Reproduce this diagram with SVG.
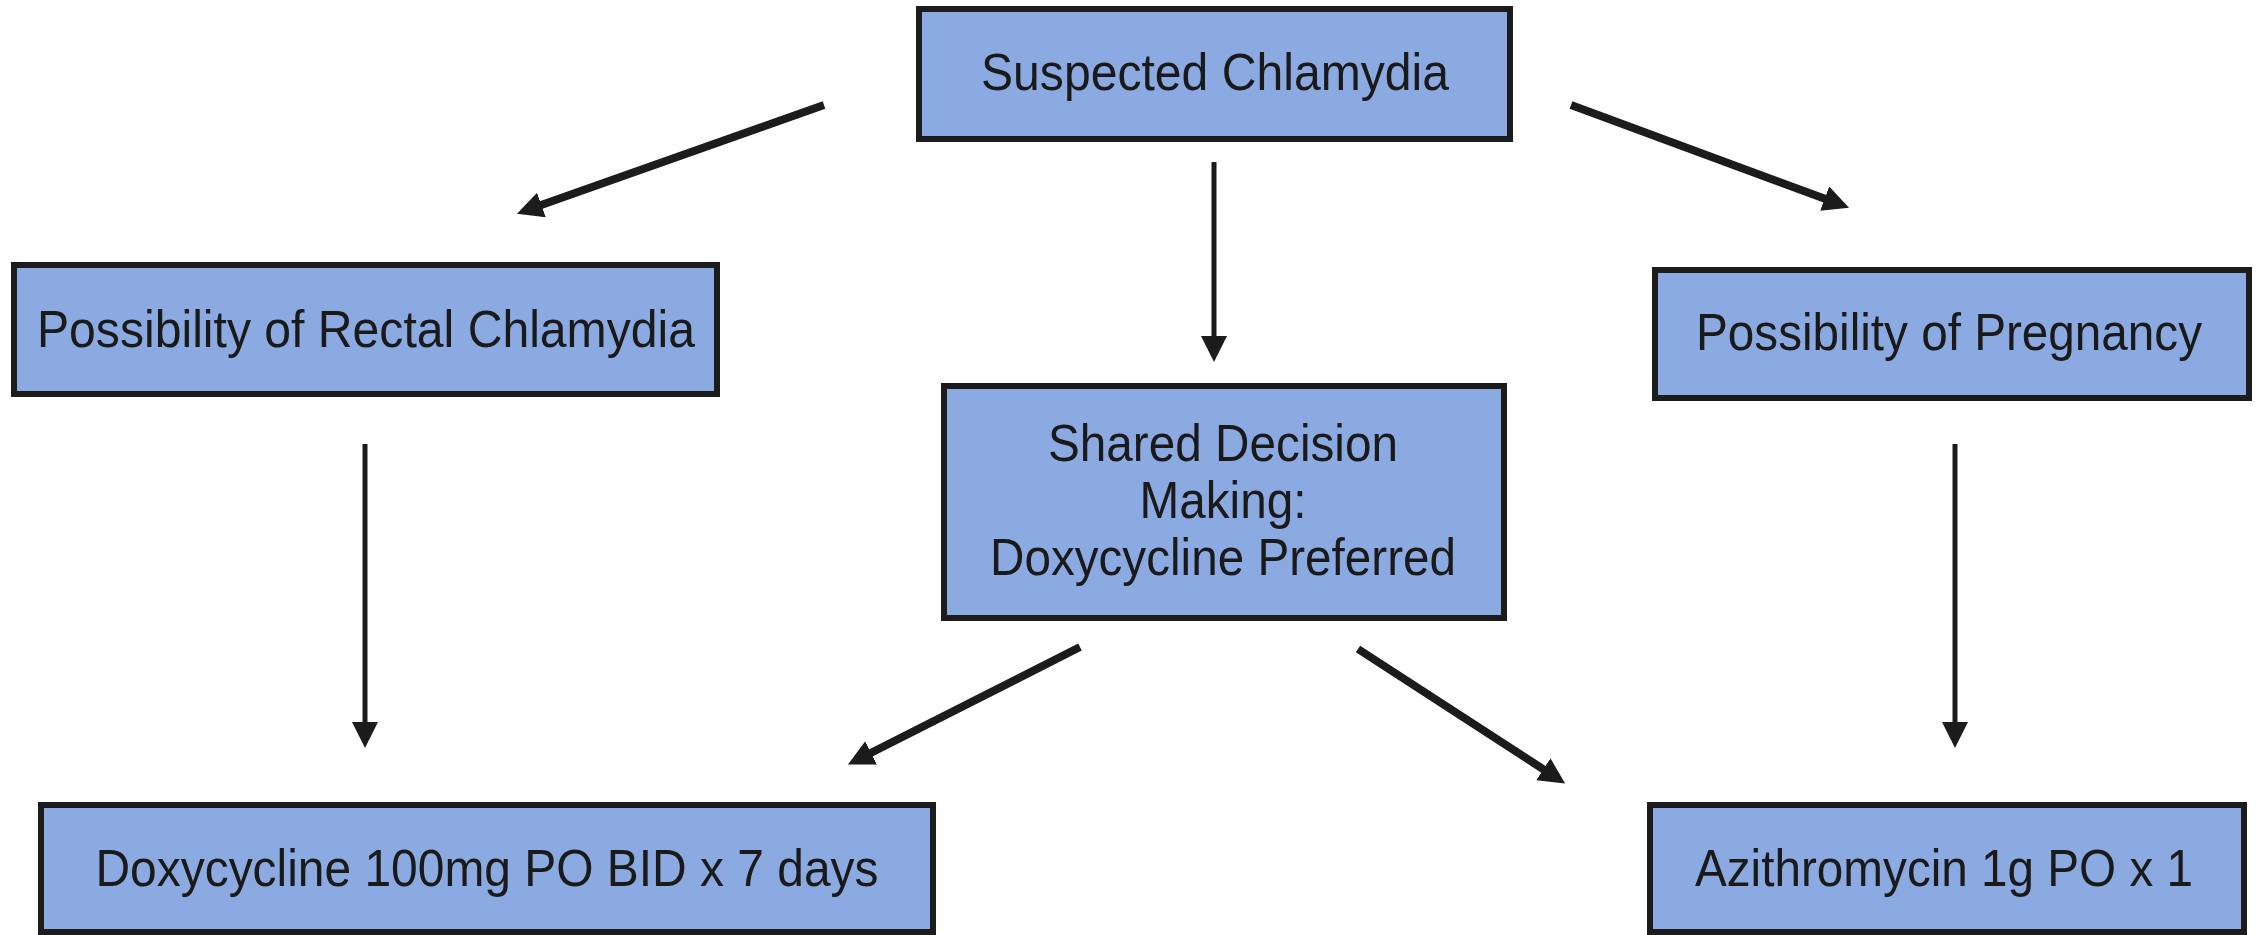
<svg xmlns="http://www.w3.org/2000/svg" width="2259" height="935" viewBox="0 0 2259 935">
  <style>
    .box { fill: #8caae2; stroke: #1c1c1c; stroke-width: 6; }
    .lbl { font-family: "Liberation Sans", Arial, sans-serif; font-size: 52px; fill: #1a1a1a; text-anchor: middle; }
    .diag { stroke: #1c1c1c; stroke-width: 8; fill: none; marker-end: url(#ah); }
    .vert { stroke: #1c1c1c; stroke-width: 5; fill: none; marker-end: url(#ah); }
  </style>
  <defs>
    <marker id="ah" markerUnits="userSpaceOnUse" markerWidth="28" markerHeight="28" refX="1" refY="13" orient="auto" viewBox="0 0 28 28">
      <path d="M0,0 L26,13 L0,26 z" fill="#1c1c1c"/>
    </marker>
  </defs>
  <rect x="0" y="0" width="2259" height="935" fill="#ffffff"/>

  <g id="connectors">
    <line class="diag" x1="824" y1="105" x2="540.5" y2="205.3"/>
    <line class="diag" x1="1571" y1="105" x2="1825.6" y2="199"/>
    <line class="vert" x1="1214" y1="162" x2="1214" y2="337"/>
    <line class="vert" x1="365" y1="444" x2="365" y2="723"/>
    <line class="vert" x1="1955" y1="444" x2="1955" y2="723"/>
    <line class="diag" x1="1080" y1="647" x2="870.2" y2="753.3"/>
    <line class="diag" x1="1358" y1="649" x2="1544.2" y2="769.8"/>
  </g>

  <g id="suspected">
    <rect class="box" x="919" y="9" width="591" height="130"/>
    <text class="lbl" x="1215" y="90" textLength="468" lengthAdjust="spacingAndGlyphs">Suspected Chlamydia</text>
  </g>

  <g id="rectal">
    <rect class="box" x="14" y="265" width="703" height="129"/>
    <text class="lbl" x="366" y="347" textLength="658" lengthAdjust="spacingAndGlyphs">Possibility of Rectal Chlamydia</text>
  </g>

  <g id="pregnancy">
    <rect class="box" x="1655" y="270" width="594" height="128"/>
    <text class="lbl" x="1949" y="350" textLength="506" lengthAdjust="spacingAndGlyphs">Possibility of Pregnancy</text>
  </g>

  <g id="shared">
    <rect class="box" x="944" y="386" width="560" height="232"/>
    <text class="lbl" x="1223" y="461" textLength="350" lengthAdjust="spacingAndGlyphs">Shared Decision</text>
    <text class="lbl" x="1223" y="518" textLength="167" lengthAdjust="spacingAndGlyphs">Making:</text>
    <text class="lbl" x="1223" y="575" textLength="466" lengthAdjust="spacingAndGlyphs">Doxycycline Preferred</text>
  </g>

  <g id="doxycycline">
    <rect class="box" x="41" y="805" width="892" height="127"/>
    <text class="lbl" x="487" y="886" textLength="783" lengthAdjust="spacingAndGlyphs">Doxycycline 100mg PO BID x 7 days</text>
  </g>

  <g id="azithromycin">
    <rect class="box" x="1650" y="805" width="594" height="127"/>
    <text class="lbl" x="1944" y="886" textLength="498" lengthAdjust="spacingAndGlyphs">Azithromycin 1g PO x 1</text>
  </g>
</svg>
